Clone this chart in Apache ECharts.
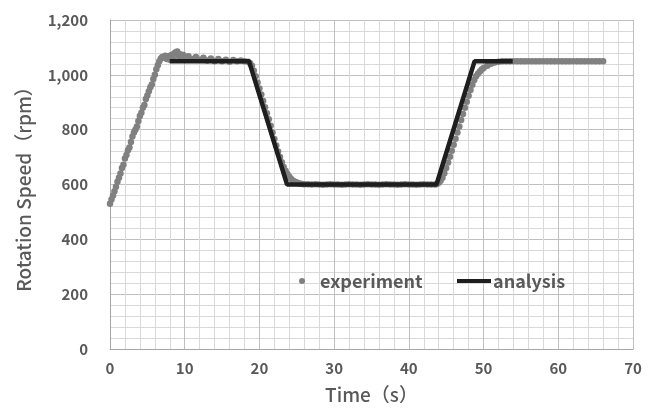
<!DOCTYPE html>
<html><head><meta charset="utf-8">
<script src="https://cdn.jsdelivr.net/npm/echarts@6/dist/echarts.min.js"></script>
<style>html,body{margin:0;padding:0;background:#fff}#c{width:659px;height:410px}</style>
</head><body><div id="c"></div>
<script>
// experiment: time (s)
const expTime = [
0,0.2,0.4,0.6,0.8,1.0,1.2,1.4,1.6,1.8,2.0,2.2,2.4,2.6,2.8,3.0,3.2,3.4,3.6,3.8,
4.0,4.2,4.4,4.6,4.8,5.0,5.2,5.4,5.6,5.8,6.0,6.2,6.4,6.6,6.8,7.0,7.2,7.4,7.6,7.8,
8.0,8.2,8.4,8.6,8.8,9.0,9.2,9.4,9.6,9.8,10.0,
10.5,11,11.5,12,12.5,13,13.5,14,14.5,15,15.5,16,16.5,17,17.5,18,
18.5,18.75,19,19.25,19.5,19.75,20,20.25,20.5,20.75,21,21.25,21.5,21.75,22,22.25,22.5,22.75,
23,23.25,23.5,23.75,24,24.25,24.5,24.75,25,25.25,25.5,25.75,26,26.5,
27,27.5,28,28.5,29,29.5,30,30.5,31,31.5,32,32.5,33,33.5,34,34.5,35,35.5,36,36.5,
37,37.5,38,38.5,39,39.5,40,40.5,41,41.5,42,42.5,43,
43.5,43.75,44,44.25,44.5,44.75,45,45.25,45.5,45.75,46,46.25,46.5,46.75,47,47.25,47.5,47.75,
48,48.25,48.5,48.75,49,49.25,49.5,49.75,50,50.5,51,51.5,52,52.5,
53,53.5,54,54.5,55,55.5,56,56.5,57,57.5,58,58.5,59,59.5,60,60.5,61,61.5,62,62.5,
63,63.5,64,64.5,65,65.5,66
];
// experiment: rotation speed (rpm)
const expSpeed = [
530,545,560,575,592,610,625,640,660,672,695,708,725,735,755,775,790,800,812,832,
850,862,880,890,912,925,940,955,965,985,1000,1020,1035,1050,1060,1065,1062,1070,1058,1068,
1055,1072,1060,1078,1082,1085,1068,1075,1060,1072,1065,
1068,1058,1065,1055,1062,1052,1060,1050,1058,1050,1055,1048,1054,1050,1052,1050,
1048,1042,1033,1015,995,972,950,928,905,882,860,838,814,790,766,742,720,700,
681,664,650,638,628,620,614,610,607,605,603,602,601,601,
600,601,600,599,600,601,600,600,599,600,601,600,600,599,600,601,600,600,599,600,
601,600,600,599,600,601,600,600,599,600,601,600,600,
600,602,606,614,625,641,660,680,701,723,745,767,790,812,835,857,880,902,
924,945,964,981,995,1004,1012,1019,1025,1033,1040,1045,1048,1050,
1050,1050,1050,1050,1050,1050,1050,1050,1050,1050,1050,1050,1050,1050,1050,1050,1050,1050,1050,1050,
1050,1050,1050,1050,1050,1050,1050
];
// analysis
const anaTime = [8.0, 18.6, 23.7, 43.7, 48.8, 53.9];
const anaSpeed = [1050, 1050, 600, 600, 1050, 1050];

const xTicks = {min:0, max:70, interval:10};
const yTicks = {min:0, max:1200, interval:200};

const FONT = '"Noto Sans CJK JP", "Noto Sans", sans-serif';
const TXT = '#595959';

const chart = echarts.init(document.getElementById('c'), null, {renderer:'canvas'});
chart.setOption({
  animation:false,
  backgroundColor:'#fff',
  grid:{left:110, right:26, top:20, bottom:61},
  legend:[{
    data:[{name:'experiment', icon:'circle'}],
    left:294, top:267, itemWidth:6, itemHeight:6, itemGap:0,
    textStyle:{color:TXT, fontSize:18, fontWeight:'bold', fontFamily:FONT, padding:[0,0,0,10]}
  },{
    data:[{name:'analysis', icon:'rect'}],
    left:452, top:267, itemWidth:34, itemHeight:4,
    itemStyle:{color:'#1e1e1e'},
    textStyle:{color:TXT, fontSize:18, fontWeight:'bold', fontFamily:FONT, padding:[0,0,0,-3]}
  }],
  xAxis:{
    type:'value', min:xTicks.min, max:xTicks.max, interval:xTicks.interval,
    name:'Time（s）', nameLocation:'middle', nameGap:36,
    nameTextStyle:{color:TXT, fontSize:19, fontWeight:500, fontFamily:FONT},
    axisLine:{show:true, lineStyle:{color:'#a6a6a6', width:1}},
    axisTick:{show:false},
    axisLabel:{color:TXT, fontSize:15, fontWeight:'bold', fontFamily:FONT, margin:12},
    splitLine:{show:true, lineStyle:{color:'#bfbfbf', width:1}},
    minorTick:{show:false, splitNumber:5},
    minorSplitLine:{show:true, lineStyle:{color:'#d9d9d9', width:1}}
  },
  yAxis:{
    type:'value', min:yTicks.min, max:yTicks.max, interval:yTicks.interval,
    name:'Rotation Speed（rpm）', nameLocation:'middle', nameGap:77, nameRotate:90,
    nameTextStyle:{color:TXT, fontSize:19, fontWeight:500, fontFamily:FONT},
    axisLine:{show:true, lineStyle:{color:'#a6a6a6', width:1}},
    axisTick:{show:false},
    axisLabel:{color:TXT, fontSize:15, fontWeight:'bold', fontFamily:FONT, margin:22,
      formatter:v=>v.toLocaleString('en-US')},
    splitLine:{show:true, lineStyle:{color:'#bfbfbf', width:1}},
    minorTick:{show:false, splitNumber:5},
    minorSplitLine:{show:true, lineStyle:{color:'#d9d9d9', width:1}}
  },
  series:[{
    name:'experiment', type:'scatter', symbol:'circle', symbolSize:6.5,
    itemStyle:{color:'#808080', opacity:1},
    data:expTime.map((t,i)=>[t, expSpeed[i]]), z:2
  },{
    name:'analysis', type:'line', symbol:'none', showSymbol:false,
    lineStyle:{color:'#1e1e1e', width:4.5},
    itemStyle:{color:'#1e1e1e'},
    data:anaTime.map((t,i)=>[t, anaSpeed[i]]), z:3
  }]
});
</script></body></html>
